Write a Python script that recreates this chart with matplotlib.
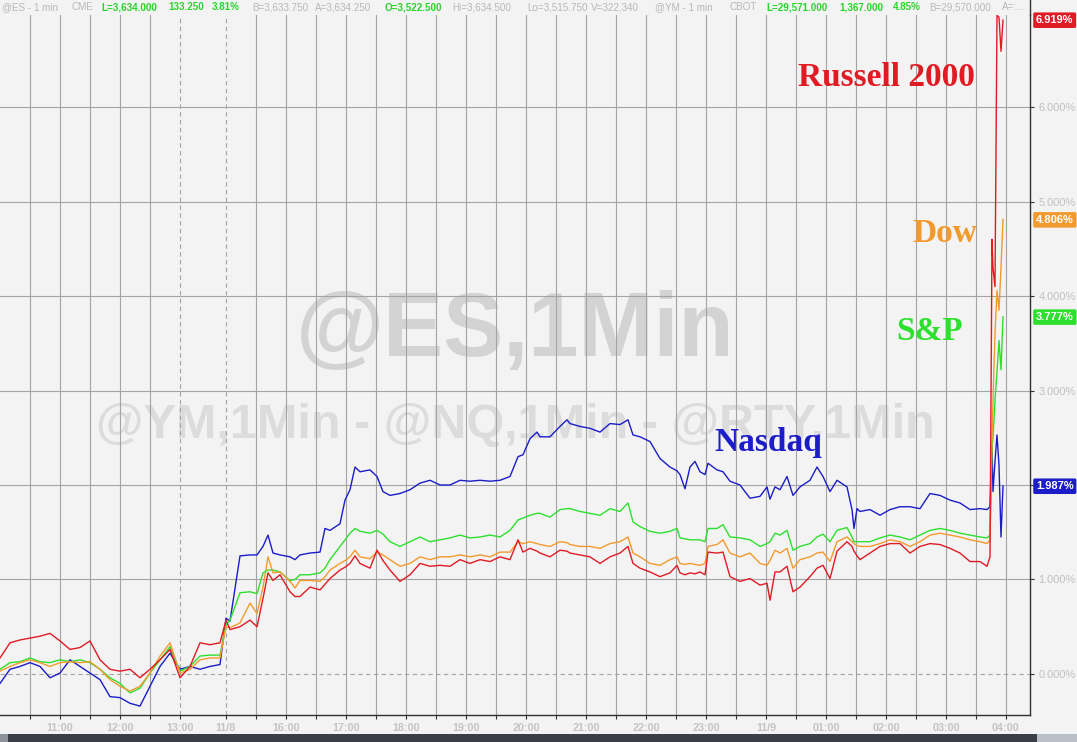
import numpy as np
import matplotlib.pyplot as plt
from matplotlib.patches import Rectangle
from matplotlib.lines import Line2D
import matplotlib.transforms as mtransforms

# -----------------------
# Data: % change, 1-min bars (x = bar index on the session axis)
# -----------------------
bars = [0, 10, 20, 30, 40, 50, 60, 70, 80, 90, 100, 110, 120, 130, 140, 150, 160, 170,
        180, 190, 200, 210, 220, 226, 230, 240, 250, 257, 263, 268, 273, 280, 290, 295,
        300, 310, 320, 325, 330, 340, 345, 350, 355, 360, 370, 377, 383, 390, 400, 410,
        420, 430, 440, 450, 460, 470, 480, 490, 500, 510, 518, 523, 530, 537, 540, 550,
        560, 567, 570, 580, 590, 600, 610, 620, 628, 633, 640, 650, 660, 670, 677, 680,
        685, 690, 695, 700, 705, 708, 717, 723, 730, 740, 750, 760, 767, 770, 775, 780,
        787, 793, 800, 810, 817, 823, 830, 837, 847, 852, 854, 857, 860, 870, 880, 890,
        900, 910, 920, 930, 940, 950, 960, 970, 980, 987, 990, 992, 993, 995, 997, 999,
        1001, 1003]

rty = [0.17, 0.33, 0.36, 0.38, 0.40, 0.43, 0.35, 0.26, 0.28, 0.35, 0.15, 0.05, 0.03, 0.05,
       -0.04, 0.05, 0.15, 0.26, -0.04, 0.08, 0.33, 0.31, 0.33, 0.57, 0.47, 0.50, 0.57, 0.50,
       0.80, 1.07, 0.99, 1.05, 0.87, 0.82, 0.82, 0.92, 0.89, 0.95, 1.01, 1.10, 1.13, 1.17,
       1.25, 1.17, 1.12, 1.31, 1.20, 1.10, 0.98, 1.05, 1.17, 1.14, 1.15, 1.14, 1.21, 1.17,
       1.21, 1.19, 1.24, 1.21, 1.42, 1.29, 1.33, 1.30, 1.28, 1.24, 1.31, 1.30, 1.28, 1.26,
       1.24, 1.17, 1.24, 1.28, 1.35, 1.17, 1.12, 1.08, 1.03, 1.07, 1.15, 1.07, 1.05, 1.07,
       1.06, 1.08, 1.05, 1.29, 1.28, 1.29, 1.03, 0.98, 1.01, 0.94, 0.96, 0.78, 1.08, 1.08,
       1.14, 0.87, 0.92, 1.03, 1.12, 1.15, 1.01, 1.30, 1.40, 1.35, 1.30, 1.25, 1.21, 1.28,
       1.35, 1.38, 1.38, 1.28, 1.35, 1.38, 1.37, 1.33, 1.28, 1.19, 1.19, 1.14, 1.24, 4.60,
       4.30, 4.10, 6.97, 6.95, 6.59, 6.92]

ym = [0.03, 0.08, 0.12, 0.15, 0.12, 0.08, 0.12, 0.13, 0.12, 0.13, 0.05, -0.06, -0.13, -0.18,
      -0.13, 0.01, 0.19, 0.33, 0.01, 0.05, 0.15, 0.17, 0.17, 0.50, 0.49, 0.54, 0.75, 0.64,
      0.92, 1.24, 1.07, 1.08, 0.98, 0.91, 0.99, 0.99, 0.98, 1.03, 1.10, 1.17, 1.20, 1.24,
      1.31, 1.24, 1.22, 1.29, 1.26, 1.21, 1.14, 1.17, 1.24, 1.21, 1.24, 1.24, 1.26, 1.24,
      1.26, 1.24, 1.29, 1.29, 1.40, 1.38, 1.40, 1.38, 1.37, 1.35, 1.40, 1.39, 1.37, 1.35,
      1.35, 1.33, 1.38, 1.40, 1.45, 1.28, 1.24, 1.17, 1.15, 1.21, 1.24, 1.17, 1.16, 1.17,
      1.16, 1.15, 1.17, 1.35, 1.37, 1.42, 1.28, 1.24, 1.28, 1.17, 1.15, 1.20, 1.31, 1.28,
      1.33, 1.12, 1.21, 1.24, 1.28, 1.29, 1.19, 1.40, 1.45, 1.40, 1.38, 1.36, 1.35, 1.35,
      1.38, 1.42, 1.40, 1.35, 1.40, 1.47, 1.49, 1.47, 1.45, 1.42, 1.40, 1.38, 1.42, 2.50,
      2.90, 3.60, 4.06, 3.85, 4.30, 4.81]

es = [0.05, 0.12, 0.13, 0.17, 0.13, 0.12, 0.15, 0.13, 0.15, 0.12, 0.05, -0.04, -0.10, -0.20,
      -0.15, 0.01, 0.15, 0.29, 0.03, 0.08, 0.19, 0.20, 0.20, 0.52, 0.57, 0.86, 0.87, 0.85,
      1.07, 1.10, 1.10, 1.08, 0.99, 1.00, 1.05, 1.05, 1.07, 1.12, 1.21, 1.35, 1.42, 1.49,
      1.54, 1.51, 1.49, 1.52, 1.48, 1.40, 1.35, 1.40, 1.45, 1.40, 1.42, 1.44, 1.47, 1.44,
      1.45, 1.47, 1.45, 1.52, 1.63, 1.65, 1.68, 1.70, 1.70, 1.66, 1.74, 1.75, 1.75, 1.72,
      1.70, 1.68, 1.75, 1.72, 1.81, 1.61, 1.56, 1.51, 1.49, 1.51, 1.54, 1.44, 1.43, 1.42,
      1.42, 1.42, 1.40, 1.54, 1.54, 1.58, 1.45, 1.44, 1.42, 1.35, 1.38, 1.40, 1.49, 1.47,
      1.52, 1.31, 1.35, 1.38, 1.45, 1.48, 1.40, 1.52, 1.55, 1.45, 1.40, 1.40, 1.40, 1.40,
      1.44, 1.47, 1.45, 1.42, 1.47, 1.52, 1.54, 1.52, 1.49, 1.47, 1.45, 1.44, 1.47, 2.40,
      2.50, 2.90, 3.20, 3.53, 3.22, 3.78]

nq = [-0.10, 0.05, 0.08, 0.12, 0.08, -0.04, 0.01, 0.15, 0.08, 0.01, -0.06, -0.24, -0.25, -0.31,
      -0.34, -0.13, 0.08, 0.22, 0.05, 0.08, 0.05, 0.08, 0.10, 0.59, 0.56, 1.25, 1.26, 1.26,
      1.35, 1.47, 1.28, 1.26, 1.24, 1.21, 1.26, 1.28, 1.29, 1.54, 1.52, 1.59, 1.84, 1.95,
      2.19, 2.14, 2.16, 2.09, 1.93, 1.89, 1.91, 1.95, 2.02, 2.05, 2.00, 2.00, 2.05, 2.04,
      2.05, 2.04, 2.05, 2.09, 2.30, 2.32, 2.49, 2.56, 2.51, 2.51, 2.62, 2.69, 2.65, 2.62,
      2.60, 2.56, 2.65, 2.64, 2.69, 2.53, 2.51, 2.46, 2.28, 2.19, 2.15, 2.11, 1.96, 2.19,
      2.25, 2.14, 2.11, 2.23, 2.16, 2.14, 2.04, 2.00, 1.86, 1.88, 1.98, 1.85, 1.98, 1.95,
      2.09, 1.89, 1.98, 2.05, 2.19, 2.09, 1.93, 2.05, 1.98, 1.74, 1.54, 1.75, 1.72, 1.74,
      1.68, 1.74, 1.77, 1.77, 1.75, 1.91, 1.89, 1.84, 1.81, 1.74, 1.75, 1.74, 1.77, 2.41,
      1.93, 2.25, 2.53, 2.21, 1.45, 1.99]

series_names = ['Nasdaq', 'S&P', 'Dow', 'Russell 2000']
series_colors = ['#1c1cc8', '#2ee02e', '#f39a2e', '#e01b24']
last_values = [1.987, 3.777, 4.806, 6.919]

tick_bars = [60, 120, 180, 226, 286, 346, 406, 466, 526, 586, 646, 706, 766, 826, 886, 946, 1006]
tick_labels = ['11:00', '12:00', '13:00', '11/8', '16:00', '17:00', '18:00', '19:00', '20:00',
               '21:00', '22:00', '23:00', '11/9', '01:00', '02:00', '03:00', '04:00']
session_breaks = [180, 226]

# -----------------------
# Figure
# -----------------------
W, H = 1077, 742
bg = '#f3f3f3'
plt.rcParams['font.family'] = ['Liberation Sans', 'DejaVu Sans']

fig = plt.figure(figsize=(W / 100, H / 100), dpi=100)
fig.patch.set_facecolor(bg)
ax = fig.add_axes([0, 27 / H, 1030 / W, 700 / H])
ax.set_facecolor(bg)
ax.set_xlim(0, 1030)
ax.set_ylim(-0.434, 6.974)

# grid
grid_c = '#a4a4a4'
half_hours = list(np.arange(30, 181, 30)) + list(np.arange(226, 1007, 30))
for gx in half_hours:
    ls = (0, (4, 3)) if gx in session_breaks else '-'
    ax.axvline(gx, color=grid_c, lw=0.8, ls=ls, zorder=1)
for gy in range(7):
    ls = (0, (4, 3)) if gy == 0 else '-'
    ax.axhline(gy, color=grid_c, lw=0.8, ls=ls, zorder=1)

# watermarks
ax.text(515 / W, 1 - 333 / H, '@ES,1Min', transform=fig.transFigure, ha='center', va='center',
        fontsize=65, weight='bold', color='#d3d3d3', zorder=0.5)
ax.text(515 / W, 1 - 425 / H, '@YM,1Min - @NQ,1Min - @RTY,1Min', transform=fig.transFigure,
        ha='center', va='center', fontsize=35, weight='bold', color='#dcdcdc', zorder=0.5)

# series
for vals, c in zip([nq, es, ym, rty], series_colors):
    ax.plot(bars, vals, color=c, lw=1.0, zorder=3)

# series names
name_pos = [(768, 443), (930, 332), (945, 233), (886, 78)]
for name, c, (px, py) in zip(series_names, series_colors, name_pos):
    ax.text(px / W, 1 - py / H, name, transform=fig.transFigure, ha='center', va='center',
            fontsize=24, weight='bold', color=c, family='Liberation Serif', zorder=4)

# axes styling
for s in ['left', 'top']:
    ax.spines[s].set_visible(False)
for s in ['right', 'bottom']:
    ax.spines[s].set_color('#303030')
    ax.spines[s].set_linewidth(1.0)
fig.add_artist(Line2D([1030 / W] * 2, [727 / H, 1], transform=fig.transFigure,
                      color='#303030', lw=1.0))

ax.yaxis.tick_right()
ax.set_yticks(range(7))
ax.set_yticklabels([f'{v:.3f}%' for v in range(7)])
ax.tick_params(axis='y', length=3, width=0.8, color='#303030', labelcolor='#c0c0c0',
               labelsize=7.9, pad=3)

ax.set_xticks(tick_bars)
ax.set_xticklabels(tick_labels)
ax.set_xticks(half_hours, minor=True)
ax.tick_params(axis='x', which='both', length=3, width=0.8, color='#303030',
               labelcolor='#c4c4c4', labelsize=7.8, pad=3)
for lab in ax.get_xticklabels():
    lab.set_fontweight('bold')

# last-value boxes
trans = mtransforms.blended_transform_factory(ax.transAxes, ax.transData)
for v, c in zip(last_values, series_colors):
    ax.text(1.0 + 6 / 1030, v, f'{v:.3f}%', transform=trans, ha='left', va='center',
            fontsize=8, weight='bold', color='white', clip_on=False, zorder=5,
            bbox=dict(boxstyle='round,pad=0.25,rounding_size=0.15', fc=c, ec='none'))

# header line
header = [
    ('@ES - 1 min', 2, '#b8b8b8', 'normal'), ('CME', 72, '#b8b8b8', 'normal'),
    ('L=3,634.000', 101, '#2ad42a', 'bold'), ('133.250', 168, '#2ad42a', 'bold'),
    ('3.81%', 212, '#2ad42a', 'bold'), ('B=3,633.750', 252, '#b8b8b8', 'normal'),
    ('A=3,634.250', 315, '#b8b8b8', 'normal'), ('O=3,522.500', 385, '#2ad42a', 'bold'),
    ('Hi=3,634.500', 452, '#b8b8b8', 'normal'), ('Lo=3,515.750', 527, '#b8b8b8', 'normal'),
    ('V=322,340', 591, '#b8b8b8', 'normal'), ('@YM - 1 min', 655, '#b8b8b8', 'normal'),
    ('CBOT', 729, '#b8b8b8', 'normal'), ('L=29,571.000', 766, '#2ad42a', 'bold'),
    ('1,367.000', 839, '#2ad42a', 'bold'), ('4.85%', 893, '#2ad42a', 'bold'),
    ('B=29,570.000', 929, '#b8b8b8', 'normal'), ('A=:...', 1002, '#b8b8b8', 'normal'),
]
for txt, px, c, w in header:
    fig.text(px / W, 1 - 7 / H, txt, ha='left', va='center', fontsize=7.1, color=c, weight=w)

# bottom scroll bar
fig.add_artist(Rectangle((0, 0), 1, 8 / H, transform=fig.transFigure, fc='#3a3f47', ec='none'))
fig.add_artist(Rectangle((0, 0), 8 / W, 8 / H, transform=fig.transFigure, fc='#8c939b', ec='none'))
fig.add_artist(Rectangle((1037 / W, 0), 40 / W, 8 / H, transform=fig.transFigure,
                         fc='#b9c0c8', ec='none'))

fig.savefig('out.png', dpi=100, facecolor=bg)
